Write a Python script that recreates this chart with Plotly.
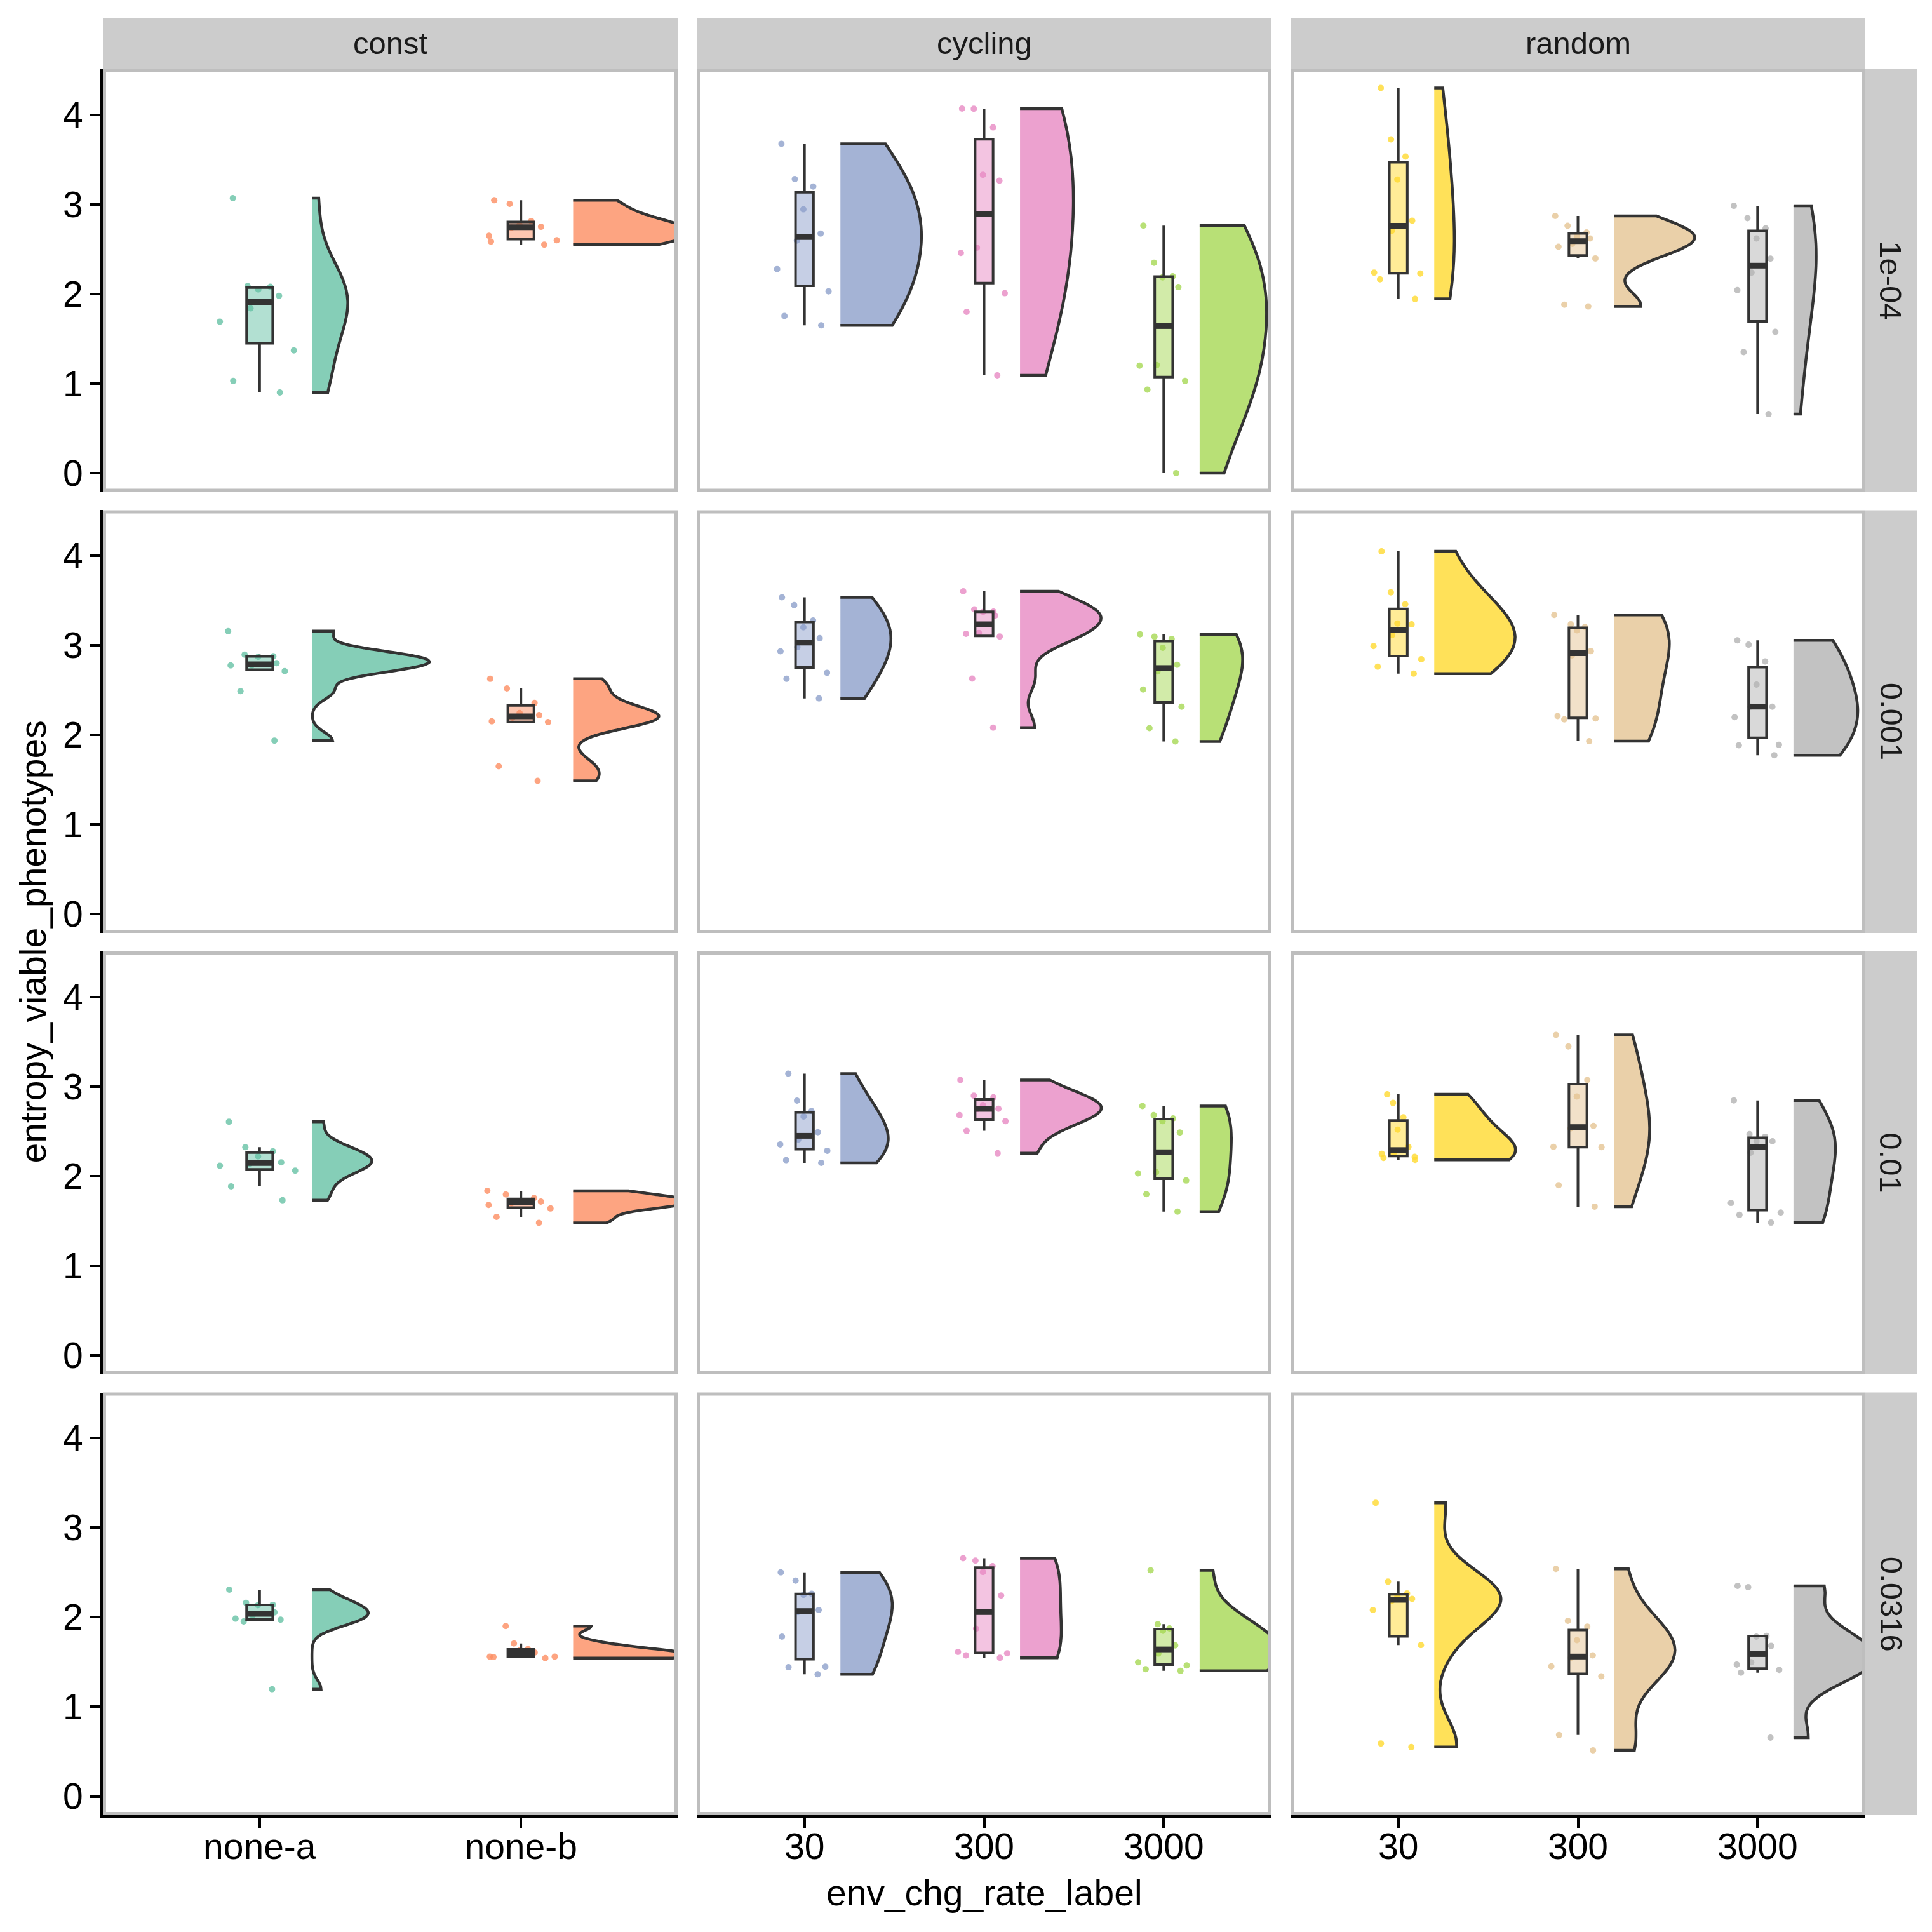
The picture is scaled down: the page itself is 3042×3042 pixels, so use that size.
import numpy as np
import plotly.graph_objects as go

# facet labels and category labels
mut_rates = ['1e-04', '0.001', '0.01', '0.0316']
regimes = ['const', 'cycling', 'random']
const_labels = ['none-a', 'none-b']
rate_labels = ['30', '300', '3000']
set2 = ['#66C2A5', '#FC8D62', '#8DA0CB', '#E78AC3', '#A6D854', '#FFD92F', '#E5C494', '#B3B3B3']

# entropy_viable_phenotypes, one list per category (10 replicates each)
const_1e04 = [[0.90, 1.03, 1.37, 1.69, 1.84, 1.98, 2.05, 2.08, 2.09, 3.07],
              [2.55, 2.585, 2.60, 2.65, 2.74, 2.75, 2.77, 2.815, 3.006, 3.046]]
cycling_1e04 = [[1.649, 1.754, 2.03, 2.277, 2.597, 2.674, 2.945, 3.2, 3.283, 3.677],
                [1.092, 1.8, 2.009, 2.458, 2.517, 3.265, 3.33, 3.86, 4.068, 4.07],
                [0.0, 0.932, 1.03, 1.2, 1.206, 2.077, 2.185, 2.197, 2.348, 2.763]]
random_1e04 = [[1.945, 2.164, 2.228, 2.238, 2.705, 2.818, 3.277, 3.535, 3.726, 4.30],
               [1.86, 1.881, 2.397, 2.528, 2.56, 2.62, 2.645, 2.687, 2.761, 2.871],
               [0.659, 1.351, 1.577, 2.044, 2.238, 2.394, 2.62, 2.733, 2.846, 2.984]]

const_0001 = [[1.938, 2.49, 2.714, 2.778, 2.778, 2.803, 2.874, 2.88, 2.898, 3.16],
              [1.489, 1.652, 2.145, 2.154, 2.194, 2.222, 2.246, 2.36, 2.52, 2.628]]
cycling_0001 = [[2.409, 2.628, 2.695, 2.935, 2.982, 3.083, 3.203, 3.28, 3.452, 3.538],
                [2.083, 2.63, 3.1, 3.13, 3.139, 3.335, 3.375, 3.378, 3.403, 3.606],
                [1.929, 2.077, 2.317, 2.508, 2.711, 2.785, 2.975, 3.074, 3.098, 3.126]]
random_0001 = [[2.686, 2.763, 2.846, 2.994, 3.117, 3.237, 3.246, 3.462, 3.594, 4.052],
               [1.932, 2.175, 2.185, 2.212, 2.89, 2.938, 3.17, 3.206, 3.237, 3.342],
               [1.775, 1.886, 1.892, 2.2, 2.317, 2.317, 2.563, 2.822, 3.009, 3.058]]

const_001 = [[1.731, 1.886, 2.062, 2.117, 2.14, 2.154, 2.222, 2.278, 2.324, 2.608],
             [1.478, 1.546, 1.639, 1.679, 1.698, 1.716, 1.716, 1.756, 1.796, 1.836]]
cycling_001 = [[2.148, 2.179, 2.284, 2.355, 2.41, 2.491, 2.667, 2.728, 2.843, 3.145],
               [2.256, 2.506, 2.614, 2.682, 2.75, 2.753, 2.793, 2.88, 2.898, 3.074],
               [1.605, 1.799, 1.951, 2.031, 2.046, 2.488, 2.614, 2.645, 2.682, 2.784]]
random_001 = [[2.182, 2.204, 2.216, 2.25, 2.256, 2.327, 2.519, 2.657, 2.818, 2.914],
              [1.66, 1.898, 2.324, 2.327, 2.534, 2.562, 2.889, 3.074, 3.448, 3.577],
              [1.481, 1.568, 1.593, 1.701, 2.262, 2.39, 2.392, 2.44, 2.47, 2.846]]

const_00316 = [[1.197, 1.954, 1.973, 1.985, 2.023, 2.055, 2.135, 2.139, 2.162, 2.309],
               [1.544, 1.556, 1.56, 1.56, 1.583, 1.606, 1.633, 1.645, 1.707, 1.903]]
cycling_00316 = [[1.363, 1.444, 1.448, 1.784, 2.058, 2.081, 2.251, 2.263, 2.409, 2.502],
                 [1.548, 1.575, 1.598, 1.614, 1.873, 2.243, 2.506, 2.571, 2.633, 2.66],
                 [1.402, 1.421, 1.463, 1.498, 1.595, 1.687, 1.849, 1.876, 1.923, 2.525]]
random_00316 = [[0.552, 0.591, 1.69, 2.081, 2.185, 2.205, 2.23, 2.266, 2.398, 3.278],
                [0.514, 0.687, 1.34, 1.452, 1.548, 1.575, 1.745, 1.896, 1.961, 2.541],
                [0.656, 1.382, 1.413, 1.471, 1.498, 1.68, 1.784, 1.792, 2.336, 2.351]]

grid = [[const_1e04, cycling_1e04, random_1e04],
        [const_0001, cycling_0001, random_0001],
        [const_001, cycling_001, random_001],
        [const_00316, cycling_00316, random_00316]]

# ---- layout in page pixels (page body has an 8px margin) ----
OFF = 8
W = H = 3042 - 2 * OFF
col_px = [(162, 1067), (1097, 2002), (2032, 2937)]
row_px = [(109, 775), (804, 1470), (1499, 2165), (2194, 2860)]
strip_top = (29, 108)
strip_right = (2937, 3018)
y_range = [-0.21, 4.51]
BW_ADJUST = 1.5
FONT = 'Liberation Sans, Arial, sans-serif'
OUTLINE = '#333333'


def px(x):
    return (x - OFF) / W


def py(y):
    return 1 - (y - OFF) / H


def rgba(c, a):
    return 'rgba(%d,%d,%d,%.2f)' % (int(c[1:3], 16), int(c[3:5], 16), int(c[5:7], 16), a)


def nrd0(v):
    v = np.asarray(v)
    q1, q3 = np.percentile(v, [25, 75])
    lo = min(np.std(v, ddof=1), (q3 - q1) / 1.34)
    if lo == 0:
        lo = np.std(v, ddof=1)
    return 0.9 * lo * len(v) ** -0.2


def box_stats(v):
    v = np.asarray(v)
    q1, med, q3 = np.percentile(v, [25, 50, 75])
    iqr = q3 - q1
    lo = v[v >= q1 - 1.5 * iqr].min()
    hi = v[v <= q3 + 1.5 * iqr].max()
    return q1, med, q3, lo, hi


fig = go.Figure()
layout = {}
shapes = []
annotations = []

for r in range(4):
    for c in range(3):
        k = r * 3 + c + 1
        xa = 'x' if k == 1 else 'x%d' % k
        ya = 'y' if k == 1 else 'y%d' % k
        groups = grid[r][c]
        labels = const_labels if c == 0 else rate_labels
        cols = set2[0:2] if c == 0 else (set2[2:5] if c == 1 else set2[5:8])
        xr = [0.4, len(labels) + 0.6]
        pw = col_px[c][1] - col_px[c][0]
        box_w_px = 0.1 * pw / (xr[1] - xr[0])

        for i, vals in enumerate(groups):
            pos = i + 1
            col = cols[i]
            # half violin (area-scaled within the panel) + jittered raw points
            fig.add_trace(go.Violin(
                x=[pos + 0.2] * len(vals), y=vals, xaxis=xa, yaxis=ya,
                side='positive', spanmode='hard',
                scalegroup='p%d' % k, scalemode='width',
                bandwidth=BW_ADJUST * nrd0(vals),
                points='all', pointpos=-0.2 / 0.45, jitter=0.4,
                marker=dict(color=rgba(col, 0.8), size=10, line=dict(width=0)),
                fillcolor=rgba(col, 0.8), line=dict(color=OUTLINE, width=4.5),
                showlegend=False, hoverinfo='y'))
            q1, med, q3, lo, hi = box_stats(vals)
            fig.add_trace(go.Box(
                x=[pos], q1=[q1], median=[med], q3=[q3], lowerfence=[lo], upperfence=[hi],
                xaxis=xa, yaxis=ya, width=0.1, whiskerwidth=0, boxpoints=False,
                fillcolor=rgba(col, 0.5), line=dict(color=OUTLINE, width=4),
                showlegend=False, hoverinfo='skip'))
            # thick median bar
            fig.add_trace(go.Scatter(
                x=[pos], y=[med], xaxis=xa, yaxis=ya, mode='markers',
                marker=dict(symbol='line-ew', size=box_w_px / 1.4,
                            line=dict(color=OUTLINE, width=9)),
                showlegend=False, hoverinfo='skip'))

        x0, x1 = col_px[c]
        y0, y1 = row_px[r]
        bottom = r == 3
        left = c == 0
        layout['xaxis' if k == 1 else 'xaxis%d' % k] = dict(
            domain=[px(x0), px(x1)], anchor=ya, range=xr,
            tickvals=list(range(1, len(labels) + 1)), ticktext=labels,
            showticklabels=bottom, ticks='outside' if bottom else '',
            ticklen=15, tickwidth=4, tickcolor='black', ticklabelstandoff=-20,
            showline=bottom, linecolor='black', linewidth=5,
            showgrid=False, zeroline=False,
            tickfont=dict(family=FONT, size=57, color='black'))
        layout['yaxis' if k == 1 else 'yaxis%d' % k] = dict(
            domain=[py(y1), py(y0)], anchor=xa, range=y_range,
            tickvals=[0, 1, 2, 3, 4],
            showticklabels=left, ticks='outside' if left else '',
            ticklen=15, tickwidth=4, tickcolor='black',
            showline=left, linecolor='black', linewidth=5,
            showgrid=False, zeroline=False,
            tickfont=dict(family=FONT, size=57, color='black'))

        # panel border
        shapes.append(dict(type='rect', xref='paper', yref='paper',
                           x0=px(x0 + 2.5), x1=px(x1 - 2.5), y0=py(y1 - 2.5), y1=py(y0 + 2.5),
                           line=dict(color='#BEBEBE', width=5), layer='above'))

# top strips
for c, name in enumerate(regimes):
    x0, x1 = col_px[c]
    shapes.append(dict(type='rect', xref='paper', yref='paper',
                       x0=px(x0), x1=px(x1), y0=py(strip_top[1]), y1=py(strip_top[0]),
                       fillcolor='#CCCCCC', line=dict(width=0), layer='below'))
    annotations.append(dict(text=name, xref='paper', yref='paper',
                            x=px((x0 + x1) / 2), y=py(sum(strip_top) / 2),
                            showarrow=False, xanchor='center', yanchor='middle',
                            font=dict(family=FONT, size=49, color='#1A1A1A')))

# right strips
for r, name in enumerate(mut_rates):
    y0, y1 = row_px[r]
    shapes.append(dict(type='rect', xref='paper', yref='paper',
                       x0=px(strip_right[0]), x1=px(strip_right[1]), y0=py(y1), y1=py(y0),
                       fillcolor='#CCCCCC', line=dict(width=0), layer='below'))
    annotations.append(dict(text=name, xref='paper', yref='paper',
                            x=px(sum(strip_right) / 2), y=py((y0 + y1) / 2),
                            showarrow=False, textangle=90, xanchor='center', yanchor='middle',
                            font=dict(family=FONT, size=49, color='#1A1A1A')))

# axis titles
annotations.append(dict(text='env_chg_rate_label', xref='paper', yref='paper',
                        x=px((col_px[0][0] + col_px[2][1]) / 2), y=py(2982),
                        showarrow=False, xanchor='center', yanchor='middle',
                        font=dict(family=FONT, size=57, color='black')))
annotations.append(dict(text='entropy_viable_phenotypes', xref='paper', yref='paper',
                        x=px(52), y=py((row_px[0][0] + row_px[3][1]) / 2),
                        showarrow=False, textangle=-90, xanchor='center', yanchor='middle',
                        font=dict(family=FONT, size=57, color='black')))

fig.update_layout(**layout)
fig.update_layout(
    width=W, height=H, margin=dict(l=0, r=0, t=0, b=0),
    plot_bgcolor='white', paper_bgcolor='white', showlegend=False,
    violinmode='overlay', violingap=0.1, violingroupgap=0,
    shapes=shapes, annotations=annotations,
    font=dict(family=FONT, color='black'))

fig.write_html("out.html")
